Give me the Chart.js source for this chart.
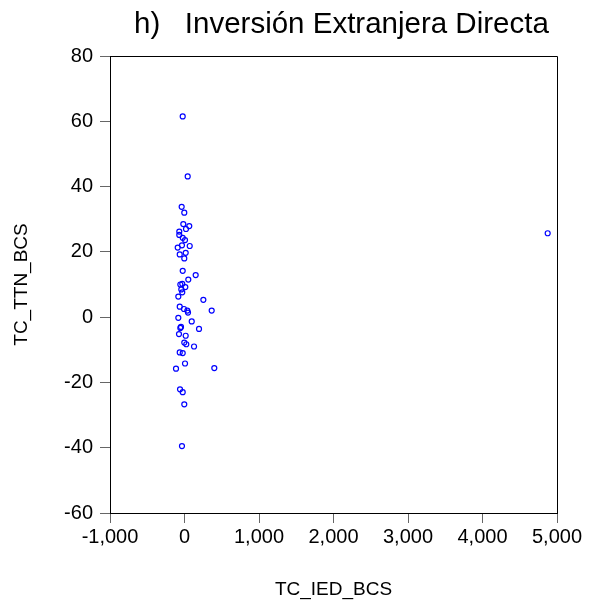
<!DOCTYPE html>
<html lang="es">
<head>
<meta charset="UTF-8">
<title>h) Inversión Extranjera Directa</title>
<script src="https://cdn.jsdelivr.net/npm/chart.js"></script>
<style>
body { margin: 0; background: #fff; }
#wrap { width: 591px; height: 605px; }
</style>
</head>
<body>
<div id="wrap"><canvas id="scatter" width="591" height="605"></canvas></div>

<script>
// valores
const tcIED = [
  -24, 43, -38, -3, -16, 64, 20, -70, -70, -24, 7, -34, 70, -91,
  16, -64, -3, -24, 150, 51, -30, -56, 11, -43, -30, -83, 253, -64,
  -7, 38, 365, 47, -83, 97, -47, -56, 195, -74, 16, -3, 24, 128,
  -64, -24, 7, -114, 400, -60, -24, -3, -34, 4875
];
const tcTTN = [
  61.5, 43.1, 33.8, 32.0, 28.5, 27.9, 27.0, 26.2, 25.2, 24.3, 23.6, 22.0, 21.8, 21.3,
  19.7, 19.2, 18.0, 14.2, 12.9, 11.5, 10.2, 10.0, 9.2, 8.5, 7.6, 6.3, 5.3, 3.2,
  2.5, 2.0, 2.0, 1.4, -0.2, -1.3, -3.0, -3.3, -3.6, -5.2, -5.7, -7.8, -8.3, -9.0,
  -10.8, -11.0, -14.2, -15.8, -15.6, -22.1, -23.0, -26.7, -39.5, 25.7
];
const xTicks = [-1000, 0, 1000, 2000, 3000, 4000, 5000];
const yTicks = [-60, -40, -20, 0, 20, 40, 60, 80];

const points = tcIED.map((x, i) => ({ x: x, y: tcTTN[i] }));
const fmt = v => v.toLocaleString('en-US');
const font = 'Liberation Sans, Arial, sans-serif';

// marco superior y derecho
const frame = {
  id: 'frame',
  afterDraw(chart) {
    const a = chart.chartArea, c = chart.ctx;
    c.save();
    c.strokeStyle = '#000';
    c.lineWidth = 1;
    c.beginPath();
    c.moveTo(a.left, a.top + 0.5);
    c.lineTo(a.right + 0.5, a.top + 0.5);
    c.lineTo(a.right + 0.5, a.bottom);
    c.stroke();
    c.restore();
  }
};

new Chart(document.getElementById('scatter'), {
  type: 'scatter',
  data: {
    datasets: [{
      data: points,
      pointStyle: 'circle',
      pointRadius: 2.5,
      pointBorderWidth: 1.2,
      borderColor: '#0000ff',
      backgroundColor: 'rgba(0,0,0,0)'
    }]
  },
  options: {
    responsive: false,
    animation: false,
    layout: { padding: { top: 0, right: 34, left: 0, bottom: 0 } },
    plugins: {
      legend: { display: false },
      tooltip: { enabled: false },
      title: {
        display: true,
        text: 'h)   Inversión Extranjera Directa ',
        color: '#000',
        align: 'end',
        font: { family: font, size: 29.5, weight: 'normal' },
        padding: { top: 7, bottom: 13.6 }
      }
    },
    scales: {
      x: {
        type: 'linear',
        min: -1000, max: 5000,
        afterBuildTicks: s => { s.ticks = xTicks.map(v => ({ value: v })); },
        afterFit: s => { s.height = 92; },
        ticks: { color: '#000', font: { family: font, size: 20 }, padding: 2, callback: v => fmt(v), maxRotation: 0 },
        grid: { drawOnChartArea: false, drawTicks: true, tickLength: 10, color: '#666' },
        border: { display: true, color: '#000', width: 1 },
        title: { display: true, text: 'TC_IED_BCS', color: '#000', font: { family: font, size: 19 }, padding: { top: 0, bottom: 4 } }
      },
      y: {
        type: 'linear',
        min: -60, max: 80,
        afterBuildTicks: s => { s.ticks = yTicks.map(v => ({ value: v })); },
        afterFit: s => { s.width = 110; },
        ticks: { color: '#000', font: { family: font, size: 20 }, padding: 7, callback: v => fmt(v) },
        grid: { drawOnChartArea: false, drawTicks: true, tickLength: 10, color: '#666' },
        border: { display: true, color: '#000', width: 1 },
        title: { display: true, text: 'TC_TTN_BCS', color: '#000', font: { family: font, size: 19 }, padding: { top: 10, bottom: 0 } }
      }
    }
  },
  plugins: [frame]
});
</script>
</body>
</html>
